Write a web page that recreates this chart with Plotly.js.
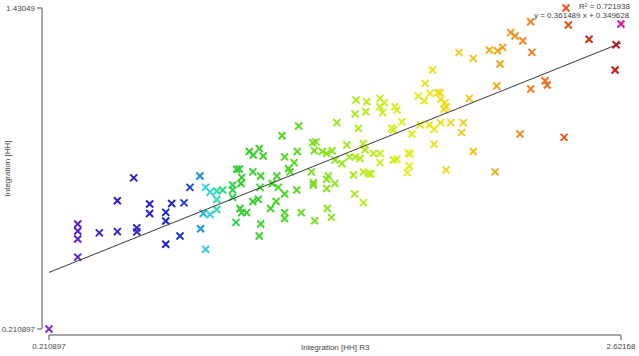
<!DOCTYPE html>
<html>
<head>
<meta charset="utf-8">
<script src="https://cdn.plot.ly/plotly-3.0.1.min.js"></script>
<style>html,body{margin:0;padding:0;background:#fff;}#chart{width:639px;height:356px;}</style>
</head>
<body>
<div id="chart"></div>
<script>
// Data (Integration [HH] R3 vs Integration [HH])
const xValues = [0.2109,0.332,0.332,0.332,0.332,0.423,0.499,0.499,0.568,0.581,0.581,0.635,0.635,0.703,0.703,0.703,0.728,0.763,0.780,0.805,
0.847,0.850,0.871,0.890,0.861,0.890,0.871,0.918,0.918,0.918,0.943,0.985,0.985,0.985,1.002,1.013,1.023,1.020,0.999,1.016,
1.023,1.044,1.055,1.072,1.097,1.114,1.070,1.103,1.100,1.093,1.070,1.103,1.097,1.145,1.168,1.152,1.177,1.171,1.204,1.204,
1.204,1.204,1.193,1.221,1.227,1.244,1.257,1.263,1.255,1.274,1.317,1.325,1.325,1.331,1.322,1.336,1.329,1.363,1.381,1.388,
1.381,1.384,1.401,1.416,1.381,1.404,1.416,1.445,1.424,1.466,1.477,1.502,1.522,1.494,1.499,1.536,1.536,1.557,1.567,1.536,
1.543,1.578,1.606,1.606,1.515,1.501,1.546,1.505,1.550,1.606,1.617,1.624,1.662,1.662,1.677,1.606,1.669,1.677,1.655,1.698,
1.740,1.725,1.732,1.729,1.721,1.775,1.814,1.834,1.834,1.862,1.904,1.884,1.950,1.957,1.999,2.091,1.828,1.796,1.768,1.817,
1.792,1.848,1.859,1.862,1.880,1.884,1.876,1.982,1.939,1.999,2.067,2.101,2.123,2.112,2.157,2.175,2.208,2.246,2.098,2.241,
2.302,2.311,2.196,2.382,2.487,2.601,2.597,2.390,2.400,2.241,2.62168];
const yValues = [0.2109,0.610,0.583,0.553,0.484,0.576,0.581,0.698,0.785,0.595,0.580,0.686,0.650,0.654,0.621,0.533,0.688,0.564,0.690,0.749,
0.792,0.592,0.749,0.731,0.650,0.646,0.514,0.735,0.703,0.665,0.739,0.758,0.739,0.711,0.818,0.819,0.787,0.764,0.616,0.669,
0.653,0.653,0.885,0.872,0.897,0.868,0.808,0.792,0.749,0.704,0.695,0.610,0.564,0.669,0.695,0.764,0.749,0.792,0.653,0.631,
0.724,0.865,0.945,0.821,0.808,0.843,0.885,0.982,0.739,0.653,0.808,0.767,0.758,0.622,0.919,0.922,0.888,0.885,0.878,0.792,
0.745,0.669,0.635,0.764,0.780,0.888,0.853,0.840,0.995,0.910,0.865,0.865,0.859,0.796,0.724,0.691,0.808,0.802,0.800,0.916,
0.891,0.878,0.878,0.843,0.973,1.028,1.036,1.081,1.074,1.055,1.033,1.071,0.967,0.853,0.856,1.087,1.055,1.043,0.974,0.998,
0.952,0.881,0.876,0.830,0.805,0.986,0.986,0.970,0.913,0.995,0.995,0.815,0.957,0.995,0.885,0.808,1.195,1.144,1.096,1.106,
1.078,1.109,1.109,1.084,1.071,1.055,1.046,1.087,1.261,1.239,1.271,1.268,1.281,1.218,1.337,1.324,1.306,1.262,1.134,1.123,
1.154,1.138,0.952,0.939,1.312,1.291,1.195,1.43049,1.366,1.378,1.370];
const xRange = [0.210897, 2.62168];
const yRange = [0.210897, 1.43049];
const slope = 0.361489;
const intercept = 0.349628;
const rSquared = 0.721938;
const xTitle = "Integration [HH] R3";
const yTitle = "Integration [HH]";

const rainbow = [
  [0.0,'#7a2fd8'],[0.05,'#5c22d0'],[0.12,'#3322c8'],[0.20,'#2020c8'],[0.247,'#2244d4'],
  [0.264,'#1a90e0'],[0.274,'#33d0e8'],[0.294,'#33e0a8'],[0.31,'#30d868'],[0.334,'#30d030'],
  [0.42,'#52d824'],[0.47,'#84e024'],[0.55,'#b4ee20'],[0.63,'#e0f020'],[0.68,'#f0e020'],
  [0.74,'#f0c420'],[0.79,'#f0a420'],[0.84,'#f08420'],[0.90,'#e85a1c'],[0.944,'#d82814'],
  [0.993,'#d01414'],[1.0,'#e0149a']
];

const regX = [xRange[0], xRange[1]];
const regY = regX.map(v => slope * v + intercept);

const font = {family: 'Liberation Sans, Arial, sans-serif', size: 8, color: '#444'};
const axisColor = '#8a8a8a';

const traces = [
  {
    type: 'scatter', mode: 'markers', x: xValues, y: yValues, cliponaxis: false,
    marker: {
      symbol: 'x-thin', size: 7,
      color: xValues, colorscale: rainbow, cmin: xRange[0], cmax: xRange[1],
      line: {width: 2, color: xValues, colorscale: rainbow, cmin: xRange[0], cmax: xRange[1]}
    },
    hoverinfo: 'x+y', showlegend: false
  },
  {
    type: 'scatter', mode: 'lines', x: regX, y: regY, cliponaxis: false,
    line: {color: '#3a3a3a', width: 1}, showlegend: false, hoverinfo: 'skip'
  }
];

const layout = {
  width: 639, height: 356,
  margin: {l: 49, r: 18, t: 8, b: 27},
  paper_bgcolor: '#fff', plot_bgcolor: '#fff',
  font: font,
  showlegend: false,
  xaxis: {
    range: xRange, showgrid: false, zeroline: false, showline: false,
    tickvals: xRange, ticktext: ['0.210897', '2.62168'], ticks: '',
    ticklabelstandoff: 11, tickfont: font, fixedrange: true
  },
  yaxis: {
    range: yRange, showgrid: false, zeroline: false, showline: false,
    tickvals: yRange, ticktext: ['0.210897', '1.43049'], ticks: '',
    ticklabelstandoff: 13, tickfont: font, fixedrange: true
  },
  shapes: [
    {type: 'line', xref: 'paper', yref: 'paper', x0: -0.0122, x1: -0.0122, y0: 0, y1: 1, line: {color: axisColor, width: 1.5}},
    {type: 'line', xref: 'paper', yref: 'paper', x0: -0.021, x1: -0.0122, y0: 1, y1: 1, line: {color: axisColor, width: 1.5}},
    {type: 'line', xref: 'paper', yref: 'paper', x0: -0.021, x1: -0.0122, y0: 0, y1: 0, line: {color: axisColor, width: 1.5}},
    {type: 'line', xref: 'paper', yref: 'paper', x0: 0, x1: 1, y0: -0.0187, y1: -0.0187, line: {color: axisColor, width: 1.5}},
    {type: 'line', xref: 'paper', yref: 'paper', x0: 0, x1: 0, y0: -0.0187, y1: -0.034, line: {color: axisColor, width: 1.5}},
    {type: 'line', xref: 'paper', yref: 'paper', x0: 1, x1: 1, y0: -0.0187, y1: -0.034, line: {color: axisColor, width: 1.5}}
  ],
  annotations: [
    {text: xTitle, xref: 'paper', yref: 'paper', x: 0.5, y: -0.059, xanchor: 'center', yanchor: 'middle', showarrow: false, font: font},
    {text: yTitle, xref: 'paper', yref: 'paper', x: -0.0717, y: 0.5, xanchor: 'center', yanchor: 'middle', textangle: -90, showarrow: false, font: font},
    {text: 'R² = ' + rSquared, xref: 'paper', yref: 'paper', x: 1.0192, y: 1.004, xanchor: 'right', yanchor: 'middle', showarrow: false, font: font},
    {text: 'y = ' + slope + ' x + ' + intercept, xref: 'paper', yref: 'paper', x: 1.0192, y: 0.978, xanchor: 'right', yanchor: 'middle', showarrow: false, font: font}
  ]
};

Plotly.newPlot('chart', traces, layout, {displayModeBar: false, staticPlot: true});
</script>
</body>
</html>
